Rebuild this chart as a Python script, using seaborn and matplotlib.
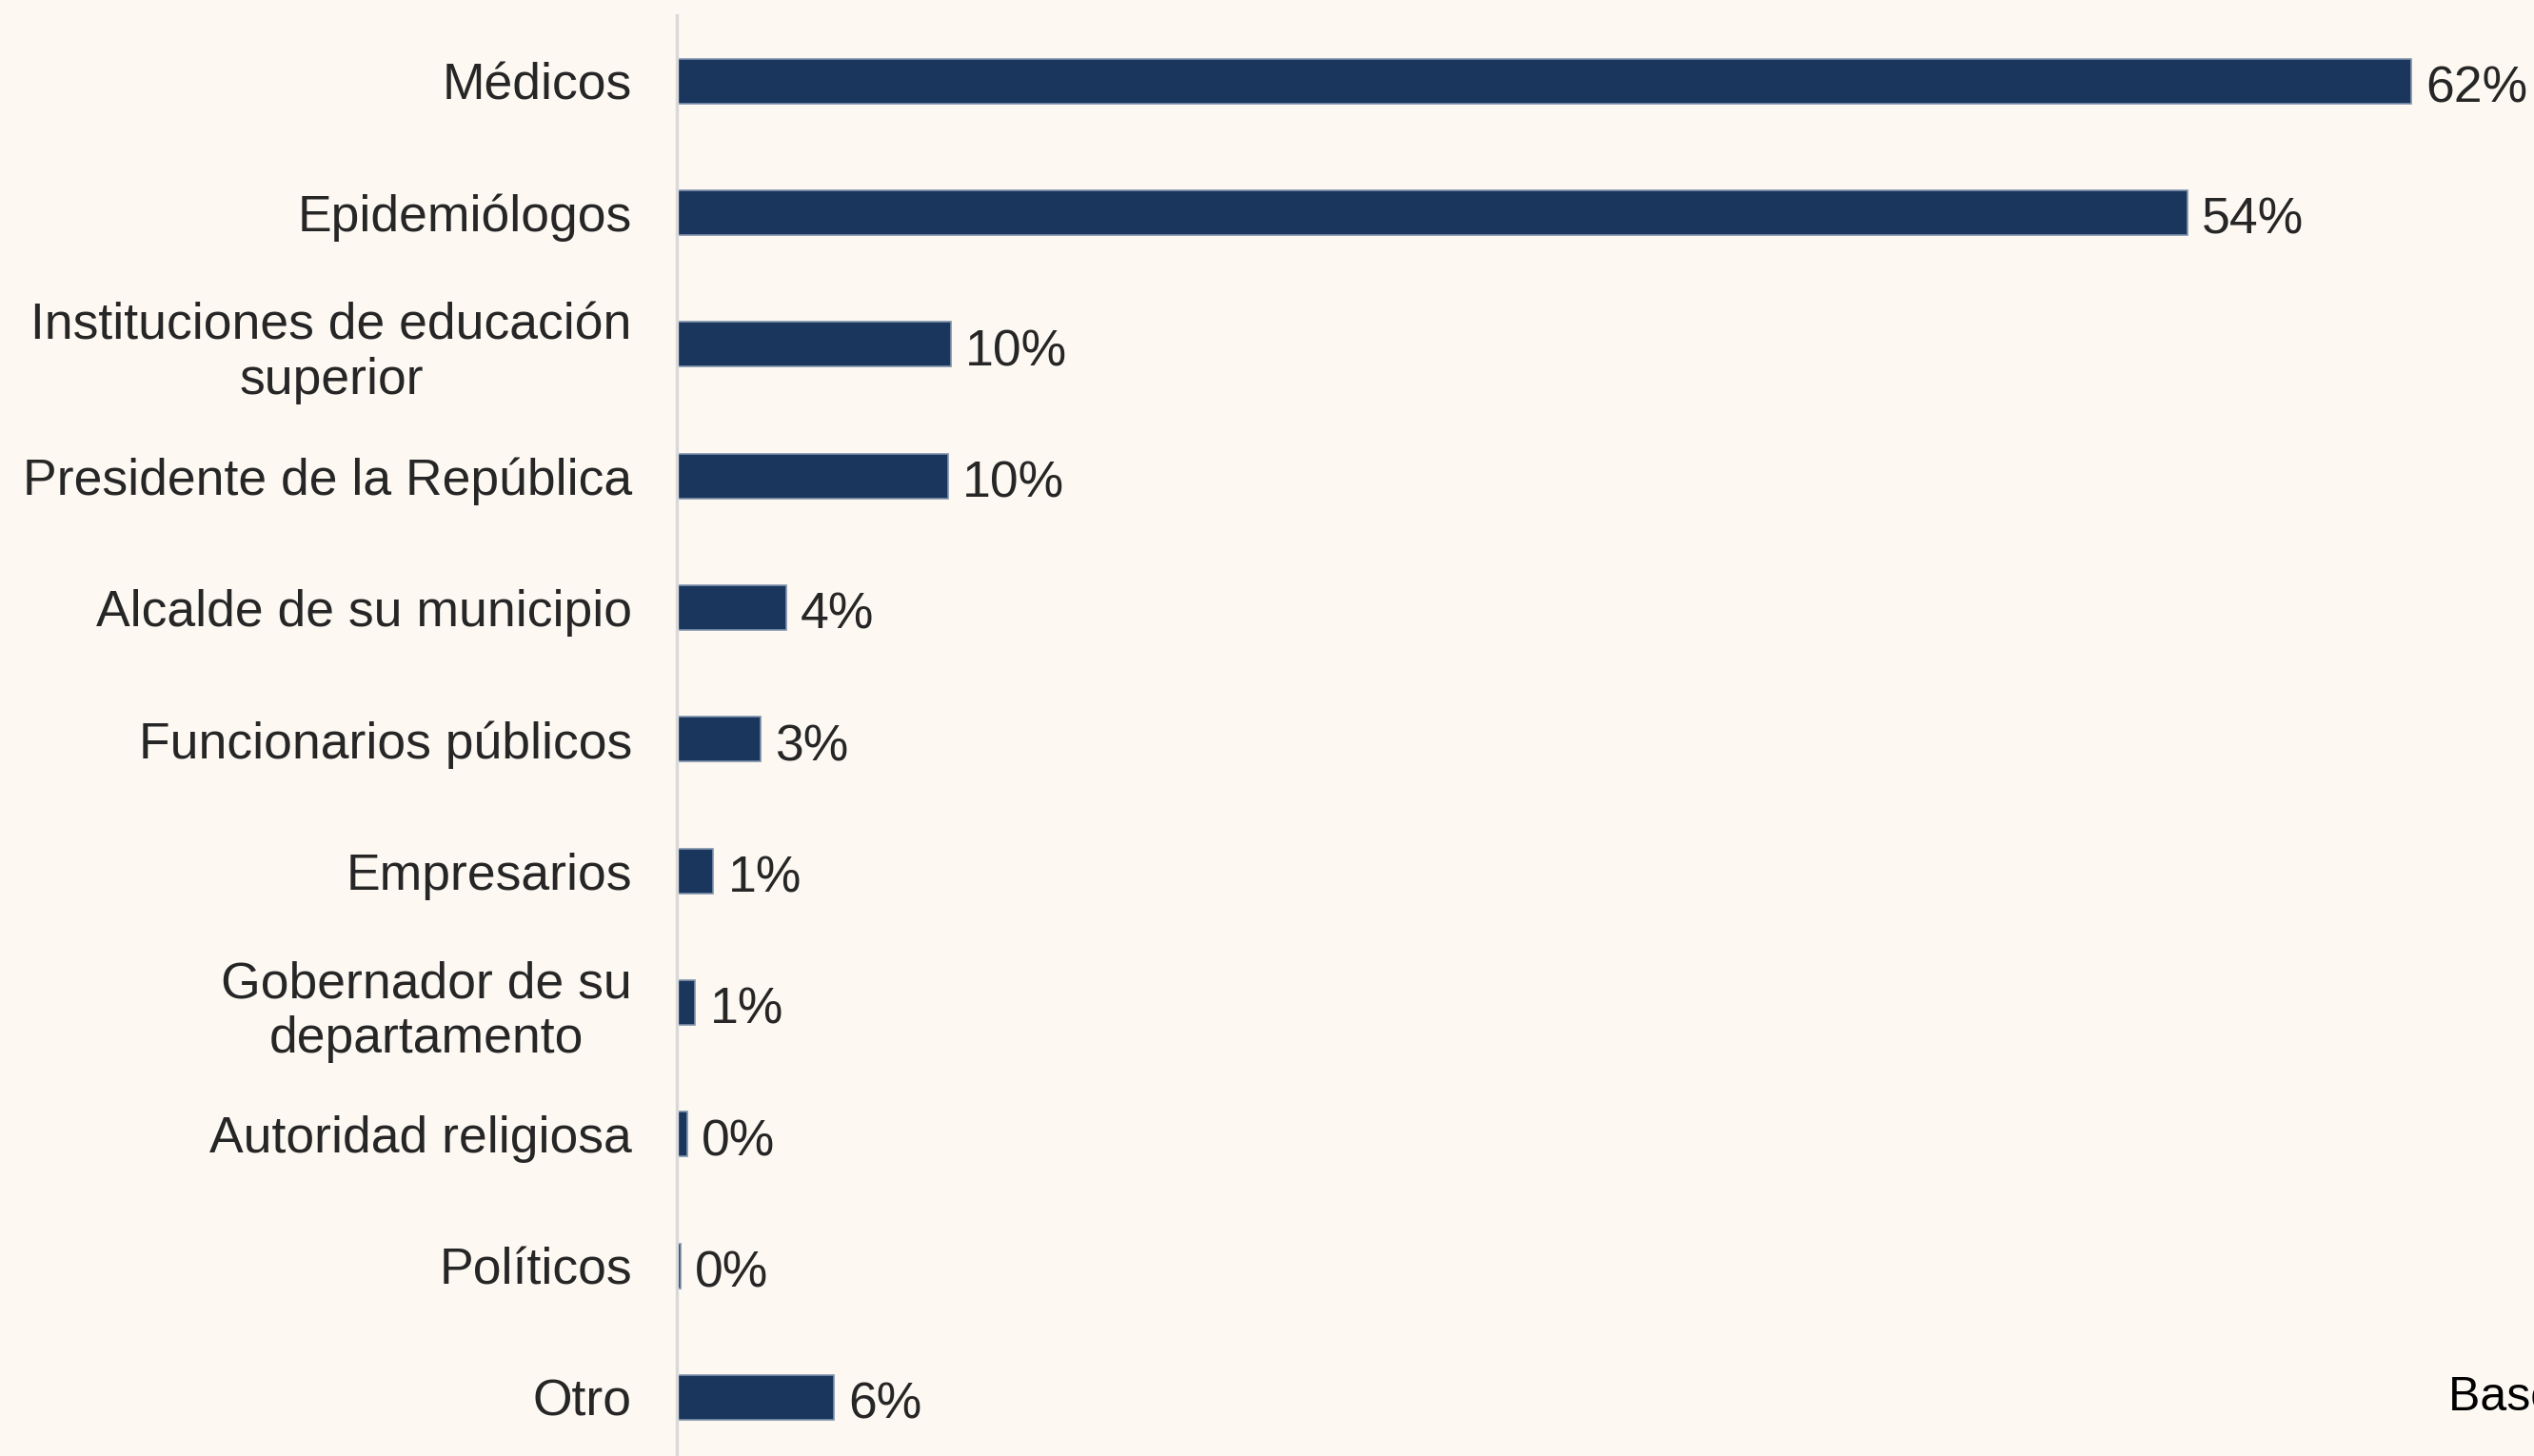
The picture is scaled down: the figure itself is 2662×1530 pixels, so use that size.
import matplotlib.pyplot as plt
import seaborn as sns
import pandas as pd

# data
categories = [
    "Médicos",
    "Epidemiólogos",
    "Instituciones de educación\nsuperior",
    "Presidente de la República",
    "Alcalde de su municipio",
    "Funcionarios públicos",
    "Empresarios",
    "Gobernador de su\ndepartamento",
    "Autoridad religiosa",
    "Políticos",
    "Otro",
]
values = [62.0, 54.0, 9.8, 9.7, 3.9, 3.0, 1.3, 0.65, 0.37, 0.13, 5.6]
footnote = "Base: Total encuestados"

BG = "#FDF8F2"
BAR = "#1A365D"
TXT = "#262626"

sns.set_theme(style="white")
plt.rcParams["font.family"] = ["Liberation Sans", "DejaVu Sans"]

df = pd.DataFrame({"cat": categories, "val": values})

fig = plt.figure(figsize=(13.31, 7.65), dpi=200, facecolor=BG)
ax = fig.add_axes([711 / 2662, -0.005, 1 - 711 / 2662, 0.9895 + 0.005])
ax.set_facecolor(BG)

sns.barplot(data=df, x="val", y="cat", orient="h", color=BAR, width=0.34,
            saturation=1, edgecolor="#7f93ad", linewidth=0.6, ax=ax)

ax.set_xlim(0, 66.4)
ax.set_ylim(len(categories) - 0.5, -0.5)

for i, v in enumerate(values):
    ax.annotate(f"{v:.0f}%", (v, i), xytext=(5.5, -3), textcoords="offset points",
                va="center", ha="left", fontsize=19.25, color=TXT)

ax.set_xlabel("")
ax.set_ylabel("")
ax.set_xticks([])
ax.tick_params(axis="y", length=0, pad=17, labelsize=19.25, labelcolor=TXT)
for lab in ax.get_yticklabels():
    lab.set_multialignment("center")

for s in ["top", "right", "bottom"]:
    ax.spines[s].set_visible(False)
ax.spines["left"].set_color("#d9d9d9")
ax.spines["left"].set_linewidth(1.2)

# footnote is clipped by the right edge, as in the reference
fig.text(2572 / 2662, 1 - 1482 / 1530, footnote, fontsize=18, color="black",
         ha="left", va="baseline")

fig.savefig("out.png", dpi=200, facecolor=BG)
plt.close()
